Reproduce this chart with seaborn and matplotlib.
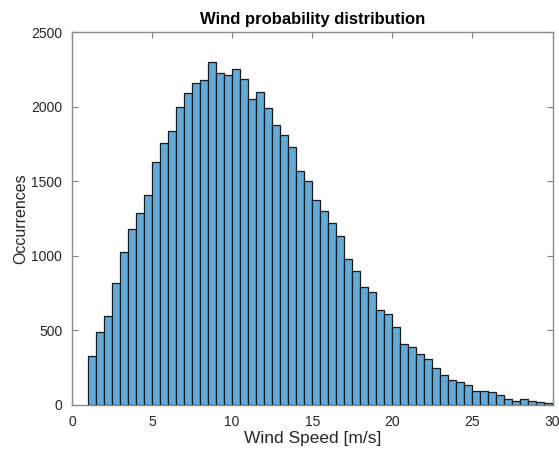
import numpy as np
import pandas as pd
import matplotlib
matplotlib.use("Agg")
import matplotlib.pyplot as plt
import seaborn as sns

# Bin edges: 1.0 to 30.0 m/s, width 0.5
bin_start = 1.0
bin_width = 0.5
counts = [330, 491, 596, 815, 1023, 1177, 1284, 1407, 1630, 1753,
          1836, 1994, 2093, 2160, 2178, 2298, 2227, 2209, 2249, 2182,
          2052, 2097, 1990, 1878, 1811, 1729, 1570, 1503, 1373, 1297,
          1217, 1132, 976, 896, 793, 757, 636, 607, 525, 409,
          391, 342, 308, 248, 203, 170, 154, 132, 96, 96,
          85, 67, 42, 27, 40, 27, 18, 15]
x_ticks = [0, 5, 10, 15, 20, 25, 30]
y_ticks = [0, 500, 1000, 1500, 2000, 2500]
title = "Wind probability distribution"
xlabel = "Wind Speed [m/s]"
ylabel = "Occurrences"

edges = [float(e) for e in bin_start + bin_width * np.arange(len(counts) + 1)]
centers = [(edges[i] + edges[i + 1]) / 2 for i in range(len(counts))]
df = pd.DataFrame({"speed": centers, "count": counts})

sns.set_theme(style="white")
plt.rcParams["font.family"] = ["Liberation Sans", "DejaVu Sans"]

fig = plt.figure(figsize=(5.59, 4.55), dpi=100)
ax = fig.add_axes([72 / 559, 50 / 455, (552.5 - 72) / 559, (405 - 32) / 455])

sns.histplot(data=df, x="speed", weights="count", bins=edges, ax=ax,
             color="#64a9d8", alpha=1.0, edgecolor="#1a1a1a", linewidth=0.9)

ax.set_xlim(0, 30)
ax.set_ylim(0, 2500)
ax.set_xticks(x_ticks)
ax.set_yticks(y_ticks)
ax.tick_params(direction="in", length=4, width=0.8, colors="#808080",
               labelcolor="#262626", labelsize=10, top=True, right=True,
               bottom=True, left=True)
ax.tick_params(axis="y", pad=7)
ax.tick_params(axis="x", pad=7)
for s in ax.spines.values():
    s.set_color("#8a8a8a")
    s.set_linewidth(1.0)
    s.set_visible(True)
ax.set_title(title, fontsize=12, fontweight="bold", color="black", pad=6)
ax.set_xlabel(xlabel, fontsize=12.5, color="#262626", labelpad=2)
ax.set_ylabel(ylabel, fontsize=11.5, color="#262626", labelpad=2)
ax.grid(False)

fig.savefig("out.png", dpi=100)
